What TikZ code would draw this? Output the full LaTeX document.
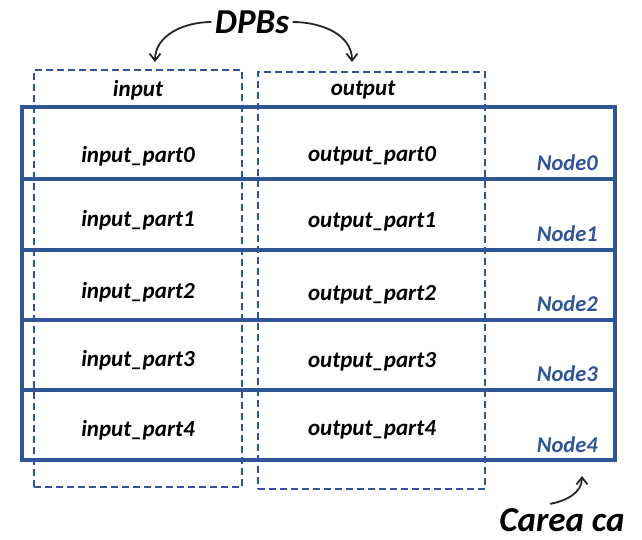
\documentclass[tikz,border=0pt]{standalone}
\usepackage{fontspec}
\setmainfont{Carlito}
\usetikzlibrary{positioning,arrows.meta}

\definecolor{rowblue}{RGB}{47,85,151}

\tikzset{
  rowbox/.style={draw=rowblue,line width=3.5pt,minimum width=593pt,inner sep=0pt},
  dpbbox/.style={draw=rowblue,dashed,dash pattern=on 7pt off 4pt,line width=1.6pt,inner sep=0pt},
  partlbl/.style={font=\bfseries\itshape\fontsize{23}{23}\selectfont},
  headlbl/.style={font=\bfseries\itshape\fontsize{23}{23}\selectfont},
  nodelbl/.style={font=\bfseries\itshape\fontsize{22.5}{22.5}\selectfont,text=rowblue,anchor=base east,inner sep=0pt},
  biglbl/.style={font=\bfseries\itshape\fontsize{35}{35}\selectfont},
  pointer/.style={-{Straight Barb[length=7pt,width=11pt]},line width=1.8pt,black!85}
}

\begin{document}
\begin{tikzpicture}[x=1pt,y=-1pt]
  \useasboundingbox (0,0) rectangle (642,539);

  % the two DPBs
  \node [dpbbox,minimum width=208pt,minimum height=417pt] (dpbin) at (138,278.5) {};
  \node [dpbbox,minimum width=227pt,minimum height=417pt] (dpbout) at (371.5,280.5) {};
  \node [headlbl] (inhead) at (138,90) {input};
  \node [headlbl] (outhead) at (363,90) {output};

  % carea rows, one per node
  \foreach \i/\y/\h in {0/143/72,1/214.5/71,2/285/70,3/355/70,4/425/70} {
    \node [rowbox,minimum height=\h pt] (row\i) at (318.5,\y) {};
  }

  \node [partlbl] (in0) at (138,156) {input\_part0};
  \node [partlbl] (in1) at (138,220) {input\_part1};
  \node [partlbl] (in2) at (138,292) {input\_part2};
  \node [partlbl] (in3) at (138,360) {input\_part3};
  \node [partlbl] (in4) at (138,430) {input\_part4};

  \node [partlbl] (out0) at (372,156) {output\_part0};
  \node [partlbl] (out1) at (372,222) {output\_part1};
  \node [partlbl] (out2) at (372,295) {output\_part2};
  \node [partlbl] (out3) at (372,362) {output\_part3};
  \node [partlbl] (out4) at (372,430) {output\_part4};

  \node [nodelbl] (nd0) at (598,170) {Node0};
  \node [nodelbl] (nd1) at (598,241) {Node1};
  \node [nodelbl] (nd2) at (598,311) {Node2};
  \node [nodelbl] (nd3) at (598,381) {Node3};
  \node [nodelbl] (nd4) at (598,452) {Node4};

  % callouts
  \node [biglbl] (dpbs) at (252,22) {DPBs};
  \coordinate (intip) at (155,62);
  \coordinate (outtip) at (352,62);
  \draw [pointer] (dpbs.west) to[out=180,in=90] (intip);
  \draw [pointer] (dpbs.east) to[out=0,in=90] (outtip);

  \node [biglbl,anchor=base,inner sep=0pt] (carea) at (562,531) {Carea ca};
  \coordinate (careatip) at (582,476);
  \draw [pointer] ([xshift=-12pt,yshift=4pt]carea.north) to[out=10,in=-90] (careatip);
\end{tikzpicture}
\end{document}
